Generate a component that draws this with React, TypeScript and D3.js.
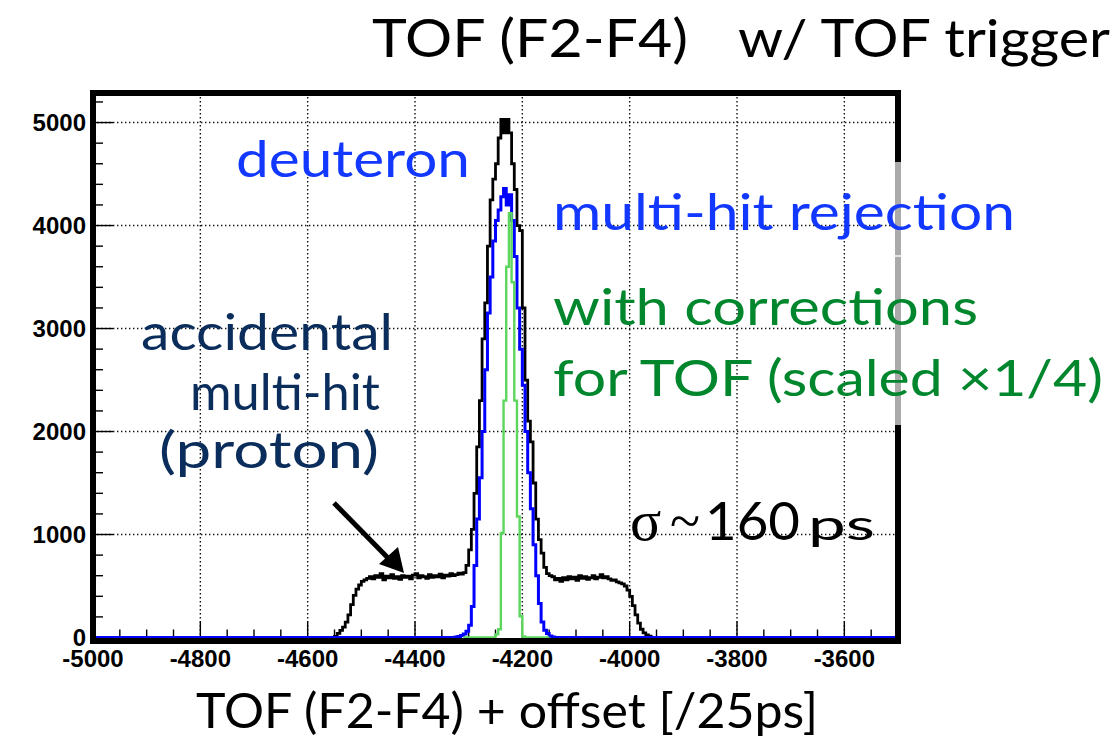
import React from "react";
import * as d3 from "d3";

const BIN = 5;
const X_MIN = -5000;
const X_MAX = -3500;
const Y_MAX = 5287;

const xTicks = [-5000, -4800, -4600, -4400, -4200, -4000, -3800, -3600];
const yTicks = [0, 1000, 2000, 3000, 4000, 5000];

// black: all events (w/ TOF trigger)
const blackStart = -4550;
const blackCounts = [
  10, 40, 70, 100, 150, 220, 320, 410, 470, 510, 545, 560,
  575, 590, 570, 600, 585, 620, 560, 595, 580, 610, 575, 590, 565, 600, 585, 595, 570, 605, 620,
  580, 600, 590, 575, 610, 585, 600, 590, 615, 580, 605, 595, 620, 600, 610, 625, 615, 630,
  700, 850, 1050, 1400, 1850, 2300, 2900, 3250, 3800, 4250, 4450, 4600, 4850, 5030, 4900, 5030,
  4900, 4600, 4350, 4000, 3950, 3200, 2500, 2100, 1900, 1500, 1150, 950, 820, 680, 620, 600,
  590, 560, 575, 545, 580, 560, 590, 570, 585, 555, 600, 575, 590, 565, 580, 600, 570, 585,
  610, 580, 590, 570, 555, 560, 540, 530,
  520, 500, 460, 400, 310, 220, 140, 80, 45, 25, 12,
];

// blue: multi-hit rejection
const blueStart = -4325;
const blueCounts = [
  5, 10, 20, 35, 60, 120, 300, 700, 1150, 1550, 2000, 2600, 3150, 3500, 3850, 4050, 4150, 4280,
  4360, 4200, 4300, 4050, 3700, 3200, 2800, 2450, 2000, 1600, 1250, 900, 600, 330, 150, 70, 40, 15, 5,
];

// green: with corrections for TOF (scaled x1/4)
const greenStart = -4250;
const greenCounts = [30, 80, 1015, 2300, 3600, 4120, 3450, 2300, 1175, 206, 10];
const greenFrom = -4310;
const greenTo = -4150;

export default function App() {
  const x = d3.scaleLinear().domain([X_MIN, X_MAX]).range([93, 898]);
  const y = d3.scaleLinear().domain([0, Y_MAX]).range([637.5, 93]);
  const line = d3
    .line<[number, number]>()
    .x((d) => x(d[0]))
    .y((d) => y(d[1]))
    .curve(d3.curveStepAfter);

  const histPts = (start: number, counts: number[], from: number, to: number) => {
    const pts: [number, number][] = [[from, 0]];
    counts.forEach((c, i) => pts.push([start + i * BIN, c]));
    pts.push([start + counts.length * BIN, 0]);
    pts.push([to, 0]);
    return pts;
  };

  const xMinor = d3.range(X_MIN, X_MAX + 1, 50);
  const yMinor = d3.range(0, Y_MAX, 200);

  const left = x(X_MIN);
  const right = x(X_MAX);
  const top = y(Y_MAX);
  const bottom = y(0);

  const sans = "Lato, 'Open Sans', sans-serif";
  const blue = "#1238ff";
  const green = "#00872d";
  const navy = "#0b2d5b";

  return (
    <svg
      width={1120}
      height={742}
      style={{ position: "absolute", left: 0, top: 0, display: "block", background: "#fff" }}
    >
      <rect x={0} y={0} width={1120} height={742} fill="#fff" />
      {/* grid */}
      {xTicks
        .filter((t) => t > X_MIN)
        .map((t) => (
          <line
            key={"gx" + t}
            x1={x(t)}
            x2={x(t)}
            y1={top}
            y2={bottom}
            stroke="#111"
            strokeWidth={1.4}
            strokeDasharray="1.4 2.6"
          />
        ))}
      {yTicks
        .filter((t) => t > 0)
        .map((t) => (
          <line
            key={"gy" + t}
            x1={left}
            x2={right}
            y1={y(t)}
            y2={y(t)}
            stroke="#111"
            strokeWidth={1.4}
            strokeDasharray="1.4 2.6"
          />
        ))}
      {/* ticks */}
      {xMinor.map((t) => {
        const major = t % 200 === 0;
        return (
          <line
            key={"tx" + t}
            x1={x(t)}
            x2={x(t)}
            y1={bottom}
            y2={bottom - (major ? 16 : 8)}
            stroke="#000"
            strokeWidth={1.4}
          />
        );
      })}
      {yMinor.map((t) => {
        const major = t % 1000 === 0;
        return (
          <line
            key={"ty" + t}
            x1={left}
            x2={left + (major ? 20 : 10)}
            y1={y(t)}
            y2={y(t)}
            stroke="#000"
            strokeWidth={1.4}
          />
        );
      })}
      {/* histograms */}
      <path d={line(histPts(blackStart, blackCounts, X_MIN, X_MAX)) || ""} fill="none" stroke="#000" strokeWidth={2.8} />
      <path d={line(histPts(blueStart, blueCounts, X_MIN, X_MAX)) || ""} fill="none" stroke="#0000ff" strokeWidth={3} />
      <path d={line(histPts(greenStart, greenCounts, greenFrom, greenTo)) || ""} fill="none" stroke="#5cd65c" strokeWidth={2.4} />
      {/* frame */}
      <rect x={left} y={top} width={right - left} height={bottom + 3.5 - top} fill="none" stroke="#000" strokeWidth={6} />
      <rect x={right - 3} y={162} width={6} height={263} fill="#aaaaaa" />
      <rect x={right - 3} y={255} width={6} height={2} fill="#e4e4e4" />
      {/* tick labels */}
      {yTicks.map((t) => (
        <text
          key={"ly" + t}
          x={86}
          y={y(t)}
          dy="0.36em"
          textAnchor="end"
          fontFamily="'Liberation Sans', Arial, sans-serif"
          fontWeight="bold"
          fontSize={24}
        >
          {t}
        </text>
      ))}
      {xTicks.map((t) => (
        <text
          key={"lx" + t}
          x={x(t)}
          y={667}
          textAnchor="middle"
          fontFamily="'Liberation Sans', Arial, sans-serif"
          fontWeight="bold"
          fontSize={24}
        >
          {t}
        </text>
      ))}
      {/* titles */}
      <text x={372} y={57} fontFamily={sans} fontSize={52} fill="#000" textLength={316} lengthAdjust="spacingAndGlyphs">
        TOF (F2-F4)
      </text>
      <text x={738} y={57} fontFamily={sans} fontSize={52} fill="#000" textLength={372} lengthAdjust="spacingAndGlyphs">
        w/ TOF trigger
      </text>
      <text x={196} y={728} fontFamily={sans} fontSize={48} fill="#000" textLength={622} lengthAdjust="spacingAndGlyphs">
        TOF (F2-F4) + offset [/25ps]
      </text>
      {/* annotations */}
      <text x={236} y={177} fontFamily={sans} fontSize={50} fill={blue} textLength={234} lengthAdjust="spacingAndGlyphs">
        deuteron
      </text>
      <text x={553} y={230} fontFamily={sans} fontSize={50} fill={blue} textLength={462} lengthAdjust="spacingAndGlyphs">
        multi-hit rejection
      </text>
      <text x={553} y={325} fontFamily={sans} fontSize={50} fill={green} textLength={425} lengthAdjust="spacingAndGlyphs">
        with corrections
      </text>
      <text x={553} y={396} fontFamily={sans} fontSize={50} fill={green} textLength={550} lengthAdjust="spacingAndGlyphs">
        for TOF (scaled ×1/4)
      </text>
      <text x={141} y={350} fontFamily={sans} fontSize={50} fill={navy} textLength={252} lengthAdjust="spacingAndGlyphs">
        accidental
      </text>
      <text x={190} y={410} fontFamily={sans} fontSize={50} fill={navy} textLength={190} lengthAdjust="spacingAndGlyphs">
        multi-hit
      </text>
      <text x={159} y={468} fontFamily={sans} fontSize={50} fill={navy} textLength={220} lengthAdjust="spacingAndGlyphs">
        (proton)
      </text>
      <text x={630} y={540} fontFamily="'Liberation Serif', serif" fontSize={58} fill="#000">
        σ
      </text>
      <text x={670} y={540} fontFamily="'Liberation Serif', serif" fontSize={58} fill="#000" textLength={30} lengthAdjust="spacingAndGlyphs">
        ~
      </text>
      <text x={705} y={540} fontFamily={sans} fontSize={52} fill="#000" textLength={95} lengthAdjust="spacingAndGlyphs">
        160
      </text>
      <text x={808} y={540} fontFamily={sans} fontSize={42} fill="#000" textLength={67} lengthAdjust="spacingAndGlyphs">
        ps
      </text>
      {/* arrow */}
      <line x1={334} y1={503} x2={388} y2={558} stroke="#000" strokeWidth={5} />
      <polygon points="404,573 379,564 398,547" fill="#000" />
    </svg>
  );
}
